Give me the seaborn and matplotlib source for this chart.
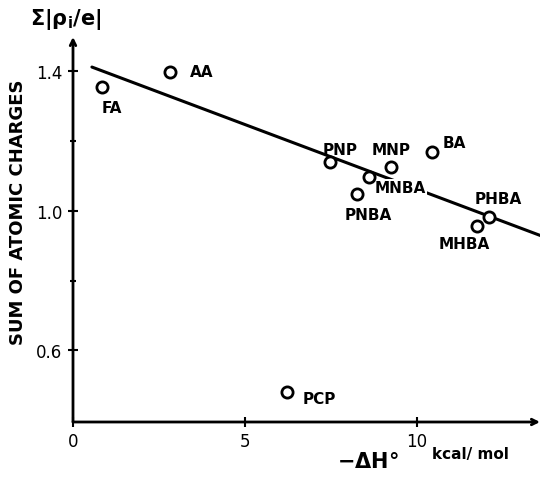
import matplotlib
matplotlib.use('Agg')
import matplotlib.pyplot as plt
import seaborn as sns
import pandas as pd

# compounds, heat of reaction (-dH, kcal/mol) and sum of atomic charges
names = ['FA', 'AA', 'PNP', 'MNP', 'BA', 'MNBA', 'PNBA', 'PHBA', 'MHBA', 'PCP']
dH = [0.84, 2.82, 7.47, 9.24, 10.44, 8.60, 8.26, 12.09, 11.74, 6.22]
charge = [1.354, 1.397, 1.139, 1.125, 1.168, 1.096, 1.049, 0.982, 0.957, 0.481]

# fitted straight line (end points)
fit_x = [0.55, 13.72]
fit_y = [1.411, 0.924]

x_ticks = [0, 5, 10]
y_ticks = [0.6, 1.0, 1.4]
y_minor = [0.8, 1.2]

# label placement: offset in pixels from the point, horizontal alignment
label_pos = {
    'FA': (10, -21, 'center'), 'AA': (20, 0, 'left'), 'PNP': (10, 13, 'center'),
    'MNP': (0, 17, 'center'), 'BA': (11, 9, 'left'), 'MNBA': (6, -10, 'left'),
    'PNBA': (11, -21, 'center'), 'PHBA': (9, 18, 'center'),
    'MHBA': (-12, -18, 'center'), 'PCP': (16, -7, 'left'),
}

df = pd.DataFrame({'name': names, 'dH': dH, 'charge': charge})
fit = pd.DataFrame({'x': fit_x, 'y': fit_y})

sns.set_style('white')
plt.rcParams['font.family'] = ['DejaVu Sans']
plt.rcParams.update({'text.color': 'black', 'axes.labelcolor': 'black',
                     'xtick.color': 'black', 'ytick.color': 'black'})

fig = plt.figure(figsize=(5.45, 4.85), dpi=100)
ax = fig.add_axes([73 / 545, 1 - 423 / 485, (540 - 73) / 545, (423 - 38) / 485])

sns.lineplot(data=fit, x='x', y='y', color='black', linewidth=2.2, ax=ax, zorder=1)
sns.scatterplot(data=df, x='dH', y='charge', s=65, facecolor='white',
                edgecolor='black', linewidth=2, ax=ax, zorder=3)

for n, xv, yv in zip(names, dH, charge):
    dx, dy, ha = label_pos[n]
    bbox = dict(facecolor='white', edgecolor='none', pad=0.5) if n == 'MNBA' else None
    ax.annotate(n, (xv, yv), xytext=(dx, dy), textcoords='offset pixels',
                ha=ha, va='center', fontsize=11, fontweight='bold', bbox=bbox, zorder=2)

ax.set_xlim(0, 13.58)
ax.set_ylim(0.395, 1.497)
for s in ax.spines.values():
    s.set_visible(False)

# axes drawn as arrows
ax.annotate('', xy=(1, 0), xytext=(0, 0), xycoords='axes fraction',
            arrowprops=dict(arrowstyle='->', lw=2, color='black', shrinkA=0, shrinkB=0))
ax.annotate('', xy=(0, 1), xytext=(0, 0), xycoords='axes fraction',
            arrowprops=dict(arrowstyle='->', lw=2, color='black', shrinkA=0, shrinkB=0))

ax.set_xticks(x_ticks)
ax.set_yticks(y_ticks)
ax.set_yticks(y_minor, minor=True)
ax.set_yticklabels([f'{v:.1f}' for v in y_ticks])
ax.tick_params(axis='both', which='both', direction='inout', length=7, width=1.5,
               labelsize=12, pad=4, left=True, bottom=True)
ax.tick_params(axis='y', which='minor', length=5)
ax.set_xlabel('')
ax.set_ylabel('')

fig.text(18 / 545, 1 - 212 / 485, 'SUM OF ATOMIC CHARGES', rotation=90,
         ha='center', va='center', fontsize=13, fontweight='bold')
fig.text(30 / 545, 1 - 20 / 485, r'$\mathbf{\Sigma|\rho_{i}/e|}$', ha='left',
         va='center', fontsize=15)
fig.text(368 / 545, 1 - 462 / 485, r'$\mathbf{-\Delta H\degree}$', ha='center',
         va='center', fontsize=15)
fig.text(432 / 545, 1 - 455 / 485, 'kcal/ mol', ha='left', va='center',
         fontsize=11, fontweight='bold')

fig.savefig('out.png', dpi=100)
